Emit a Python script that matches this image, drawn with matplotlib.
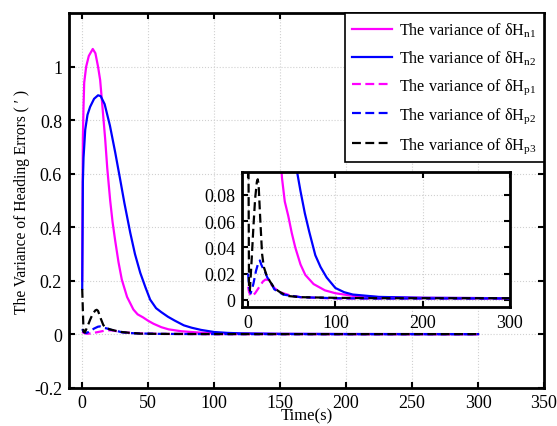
import matplotlib
matplotlib.use('Agg')
import matplotlib.pyplot as plt

plt.rcParams['font.family'] = ['Liberation Serif', 'DejaVu Serif']
plt.rcParams['mathtext.fontset'] = 'custom'
plt.rcParams['mathtext.rm'] = 'Liberation Serif'
plt.rcParams['mathtext.it'] = 'Liberation Serif:italic'
plt.rcParams['font.size'] = 13

## Data
t_n1 = [0, 0.5, 1, 1.5, 3, 5, 8, 10, 12, 13.6, 15, 17.4, 19, 21.2, 23, 25, 27.5, 30, 34, 38.8,
        42, 46, 50, 54, 60, 65.5, 75, 88, 100, 120, 150, 200, 300]
v_n1 = [0.2, 0.73, 0.85, 0.94, 1.0, 1.04, 1.066, 1.05, 1.0, 0.95, 0.87, 0.73, 0.62, 0.50, 0.42, 0.35,
        0.27, 0.205, 0.14, 0.093, 0.075, 0.064, 0.051, 0.04, 0.027, 0.019, 0.012, 0.0072, 0.005,
        0.003, 0.002, 0.0015, 0.0012]

t_n2 = [0, 0.3, 0.5, 1, 2.3, 4, 6, 9, 12, 14, 17, 21, 25, 28.8, 32, 36.4, 40, 44, 48, 51.5, 56,
        60, 65, 70, 77, 83, 90, 100, 110, 120, 150, 200, 300]
v_n2 = [0.17, 0.4, 0.57, 0.66, 0.765, 0.82, 0.85, 0.88, 0.893, 0.89, 0.86, 0.78, 0.68, 0.578, 0.49,
        0.38, 0.30, 0.23, 0.175, 0.13, 0.098, 0.083, 0.066, 0.052, 0.034, 0.025, 0.017, 0.009,
        0.0058, 0.004, 0.0022, 0.0015, 0.0012]

t_p1 = [0, 1, 3, 5, 8, 11, 14, 17, 20, 23, 26, 30, 35, 40, 50, 60, 80, 100, 150, 300]
v_p1 = [0.01, 0.006, 0.003, 0.003, 0.005, 0.008, 0.011, 0.014, 0.0155, 0.015, 0.012, 0.009, 0.0065,
        0.005, 0.003, 0.002, 0.0015, 0.001, 0.001, 0.001]

t_p2 = [0, 1, 3, 6, 9, 12, 13.5, 15, 17, 19, 22, 26.7, 30, 40, 60, 100, 150, 300]
v_p2 = [0.02, 0.01, 0.005, 0.012, 0.022, 0.029, 0.030, 0.027, 0.024, 0.022, 0.017, 0.0125, 0.008,
        0.004, 0.002, 0.0012, 0.001, 0.001]

t_p3 = [0, 1, 2, 4, 6, 8, 10, 11, 12, 14, 16, 18, 21, 25, 30, 35, 44, 60, 100, 150, 300]
v_p3 = [0.17, 0.01, 0.007, 0.03, 0.055, 0.077, 0.09, 0.092, 0.088, 0.06, 0.035, 0.025, 0.019, 0.014,
        0.009, 0.0065, 0.003, 0.002, 0.0015, 0.0012, 0.0012]

labels = [r'The variance of δH$_\mathregular{n1}$', r'The variance of δH$_\mathregular{n2}$',
          r'The variance of δH$_\mathregular{p1}$', r'The variance of δH$_\mathregular{p2}$',
          r'The variance of δH$_\mathregular{p3}$']

series = [(t_n1, v_n1, '#ff00ff', '-'), (t_n2, v_n2, '#0000ff', '-'),
          (t_p1, v_p1, '#ff00ff', (0, (4, 2))), (t_p2, v_p2, '#0000ff', (0, (4, 2))),
          (t_p3, v_p3, 'black', (0, (4, 2)))]


def style_axes(ax):
    ax.grid(True, color='#d0d0d0', linestyle=':', linewidth=0.8)
    ax.tick_params(direction='in', top=True, right=True, length=4, width=1.5, pad=5)
    for sp in ax.spines.values():
        sp.set_linewidth(2)


fig = plt.figure(figsize=(5.57, 4.27), dpi=100)
ax = fig.add_axes([0.1239, 0.089, 0.8528, 0.878])
for (t, v, c, ls), lab in zip(series, labels):
    ax.plot(t, v, color=c, linestyle=ls, linewidth=1.6, label=lab)
ax.set_xlim(-10, 350)
ax.set_ylim(-0.2, 1.2)
ax.set_xticks([0, 50, 100, 150, 200, 250, 300, 350])
ax.set_yticks([-0.2, 0, 0.2, 0.4, 0.6, 0.8, 1])
ax.set_yticklabels(['-0.2', '0', '0.2', '0.4', '0.6', '0.8', '1'])
style_axes(ax)
ax.tick_params(axis='x', pad=4)
ax.set_xlabel('Time(s)', labelpad=-2, fontsize=12)
ax.set_ylabel('The Variance of Heading Errors ( ′ )', labelpad=3, fontsize=11.2)

leg = ax.legend(loc='upper right', borderaxespad=0, handlelength=2.5, handletextpad=0.45,
                labelspacing=0.6, fancybox=False, edgecolor='black', framealpha=1,
                borderpad=0.45, fontsize=11.6)
leg.get_frame().set_linewidth(1.2)

# Inset zoom
axi = fig.add_axes([0.4345, 0.2787, 0.481, 0.316])
for t, v, c, ls in series:
    axi.plot(t, v, color=c, linestyle=ls, linewidth=1.6)
axi.set_xlim(-7, 300)
axi.set_ylim(-0.0055, 0.0975)
axi.set_xticks([0, 100, 200, 300])
axi.set_yticks([0, 0.02, 0.04, 0.06, 0.08])
axi.set_yticklabels(['0', '0.02', '0.04', '0.06', '0.08'])
style_axes(axi)

fig.savefig('out.png', dpi=100)
